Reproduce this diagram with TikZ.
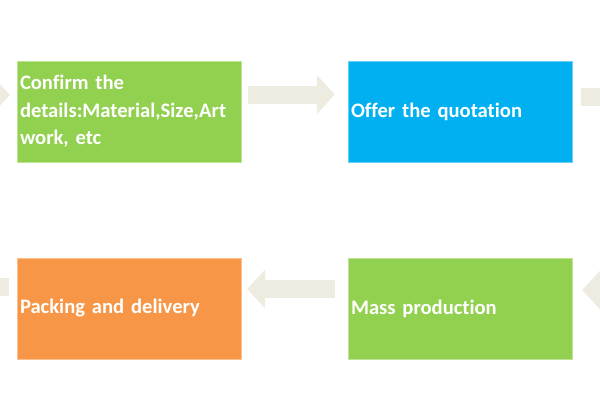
\documentclass[tikz,border=0pt]{standalone}
\usepackage{fontspec}
\setmainfont{Carlito}[Ligatures=NoCommon]
\usetikzlibrary{arrows.meta}
\definecolor{boxgreen}{HTML}{92D050}
\definecolor{boxblue}{HTML}{00B0F0}
\definecolor{boxorange}{HTML}{F79646}
\definecolor{arrowgray}{HTML}{EEECE1}
\begin{document}
\begin{tikzpicture}[x=1pt, y=-1pt,
	stepbox/.style={rectangle, minimum width=224pt, minimum height=101pt, text width=218pt, inner xsep=3pt, align=left, text=white, font=\fontsize{20.6}{27.5}\selectfont\bfseries},
	flow/.style={draw=arrowgray, line width=18pt, -{Triangle[length=18pt, width=38pt]}}]
				\clip (0, 0) rectangle (600, 400);
				\fill[white] (0, 0) rectangle (600, 400);
				\node[stepbox, fill=boxgreen, draw=boxgreen!60!white] (confirm)at(129, 111.5) {Confirm the\\details:Material,Size,Art\\work, etc};
				\node[stepbox, fill=boxblue, draw=boxblue!60!white] (quote)at(460, 111.5) {Offer the quotation};
				\node[stepbox, fill=boxgreen, draw=boxgreen!60!white] (mass)at(460, 308.5) {Mass production};
				\node[stepbox, fill=boxorange, draw=boxorange!60!white] (pack)at(129, 308.5) {Packing and delivery};
				\coordinate (inL) at (-100, 95);
				\coordinate (outR) at (700, 97);
				\coordinate (inR) at (700, 290);
				\coordinate (outL) at (-100, 287);
				\draw[flow] (inL) -- ([xshift=-7pt, yshift=16.5pt]confirm.west);
				\draw[flow] ([xshift=7pt, yshift=17pt]confirm.east) -- ([xshift=-13pt, yshift=17pt]quote.west);
				\draw[flow] ([xshift=9pt, yshift=14.5pt]quote.east) -- (outR);
				\draw[flow] (inR) -- ([xshift=10pt, yshift=18.5pt]mass.east);
				\draw[flow] ([xshift=-13pt, yshift=19.5pt]mass.west) -- ([xshift=6pt, yshift=19.5pt]pack.east);
				\draw[flow] ([xshift=-8pt, yshift=21.5pt]pack.west) -- (outL);
			\end{tikzpicture}
\end{document}
